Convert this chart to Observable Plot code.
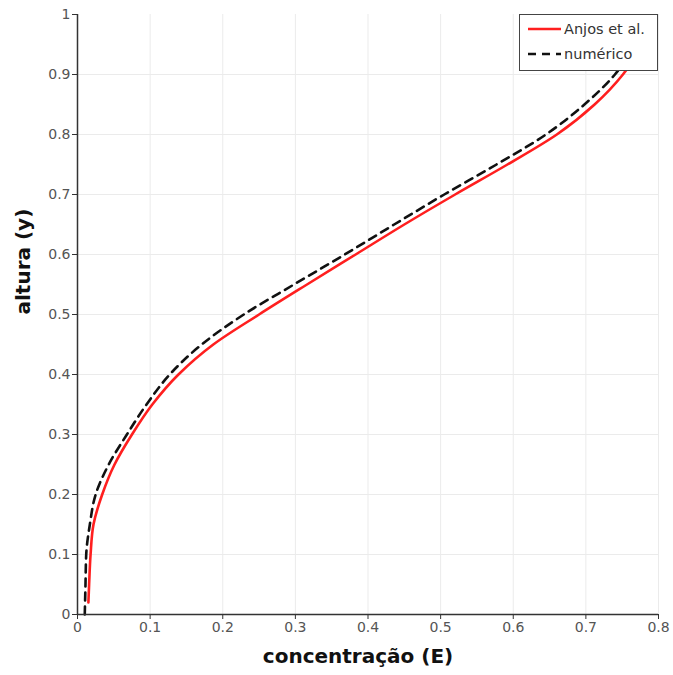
<!DOCTYPE html>
<html>
<head>
<meta charset="utf-8">
<script src="https://cdn.jsdelivr.net/npm/d3@7"></script>
<script src="https://cdn.jsdelivr.net/npm/@observablehq/plot@0.6"></script>
<style>
  body { margin: 0; background: #fff; }
  #wrap { position: relative; width: 673px; height: 675px; font-family: "DejaVu Sans", sans-serif; }
  #legend { position: absolute; left: 519px; top: 14px; width: 139px; height: 57px; border: 1px solid #444; background: #fff; box-sizing: border-box; font-size: 14.5px; color: #333; }
  #legend .row { position: absolute; left: 6px; display: flex; align-items: center; }
  #legend svg { margin-right: 1px; }
</style>
</head>
<body>
<div id="wrap">
  <div id="chart"></div>
  <div id="legend"></div>
</div>
<script>
// Anjos et al. (red solid)
const anjosY = [0.02, 0.05, 0.10, 0.15, 0.20, 0.25, 0.30, 0.35, 0.40, 0.45, 0.50, 0.55, 0.60, 0.65, 0.70, 0.75, 0.80, 0.85, 0.90, 0.95, 0.99];
const anjosX = [0.015, 0.016, 0.018, 0.022, 0.034, 0.051, 0.075, 0.103, 0.139, 0.187, 0.250, 0.316, 0.383, 0.450, 0.520, 0.592, 0.660, 0.712, 0.751, 0.778, 0.795];
// numérico (black dashed)
const numY = [0.00, 0.05, 0.10, 0.15, 0.20, 0.25, 0.30, 0.35, 0.40, 0.45, 0.50, 0.55, 0.60, 0.65, 0.70, 0.75, 0.80, 0.85, 0.90, 0.95, 0.99];
const numX = [0.010, 0.011, 0.012, 0.017, 0.025, 0.043, 0.068, 0.095, 0.127, 0.171, 0.229, 0.298, 0.368, 0.436, 0.505, 0.577, 0.645, 0.698, 0.740, 0.768, 0.787];
const xTicks = [0, 0.1, 0.2, 0.3, 0.4, 0.5, 0.6, 0.7, 0.8];
const yTicks = [0, 0.1, 0.2, 0.3, 0.4, 0.5, 0.6, 0.7, 0.8, 0.9, 1];
const seriesNames = ["Anjos et al.", "numérico"];
const xLabel = "concentração (E)";
const yLabel = "altura (y)";

const anjos = anjosY.map((y, i) => ({x: anjosX[i], y}));
const num = numY.map((y, i) => ({x: numX[i], y}));
const fmt = d => String(+d.toFixed(1));

const chart = Plot.plot({
  width: 673,
  height: 675,
  marginLeft: 77,
  marginRight: 15,
  marginTop: 14,
  marginBottom: 61,
  style: {fontFamily: "'DejaVu Sans', sans-serif", background: "#fff"},
  x: {domain: [0, 0.8]},
  y: {domain: [0, 1]},
  marks: [
    Plot.gridX(xTicks.slice(1), {stroke: "#ebebeb", strokeOpacity: 1}),
    Plot.gridY(yTicks.slice(1, -1), {stroke: "#ebebeb", strokeOpacity: 1}),
    Plot.line(anjos, {x: "x", y: "y", stroke: "#ff1f1f", strokeWidth: 2.6, curve: "monotone-y"}),
    Plot.line(num, {x: "x", y: "y", stroke: "#111", strokeWidth: 2.6, strokeDasharray: "8,6", curve: "monotone-y"}),
    Plot.axisX({ticks: xTicks, tickFormat: fmt, tickSize: 5, tickPadding: 3, fontSize: 14, color: "#555", stroke: "#333", label: null}),
    Plot.axisY({ticks: yTicks, tickFormat: fmt, tickSize: 5, tickPadding: 2, fontSize: 14, color: "#555", stroke: "#333", label: null}),
    Plot.ruleX([0], {stroke: "#333", strokeWidth: 1.5}),
    Plot.ruleY([0], {stroke: "#333", strokeWidth: 1.5}),
    Plot.text([xLabel], {frameAnchor: "bottom", dy: 48, fontSize: 20, fontWeight: "bold", fill: "#111", dx: -10}),
    Plot.text([yLabel], {frameAnchor: "left", dx: -54, rotate: -90, fontSize: 20, fontWeight: "bold", fill: "#111"})
  ]
});
document.getElementById("chart").append(chart);

const legend = document.getElementById("legend");
const styles = [
  {stroke: "#ff1f1f", dash: null},
  {stroke: "#111", dash: "8,6"}
];
seriesNames.forEach((name, i) => {
  const row = document.createElement("div");
  row.className = "row";
  row.style.top = (i === 0 ? 5 : 30) + "px";
  const s = d3.create("svg").attr("width", 37).attr("height", 18);
  s.append("line").attr("x1", 2).attr("x2", 35).attr("y1", 9).attr("y2", 9)
    .attr("stroke", styles[i].stroke).attr("stroke-width", 2.6)
    .attr("stroke-dasharray", styles[i].dash);
  row.append(s.node());
  const t = document.createElement("span");
  t.textContent = name;
  row.append(t);
  legend.append(row);
});
</script>
</body>
</html>
